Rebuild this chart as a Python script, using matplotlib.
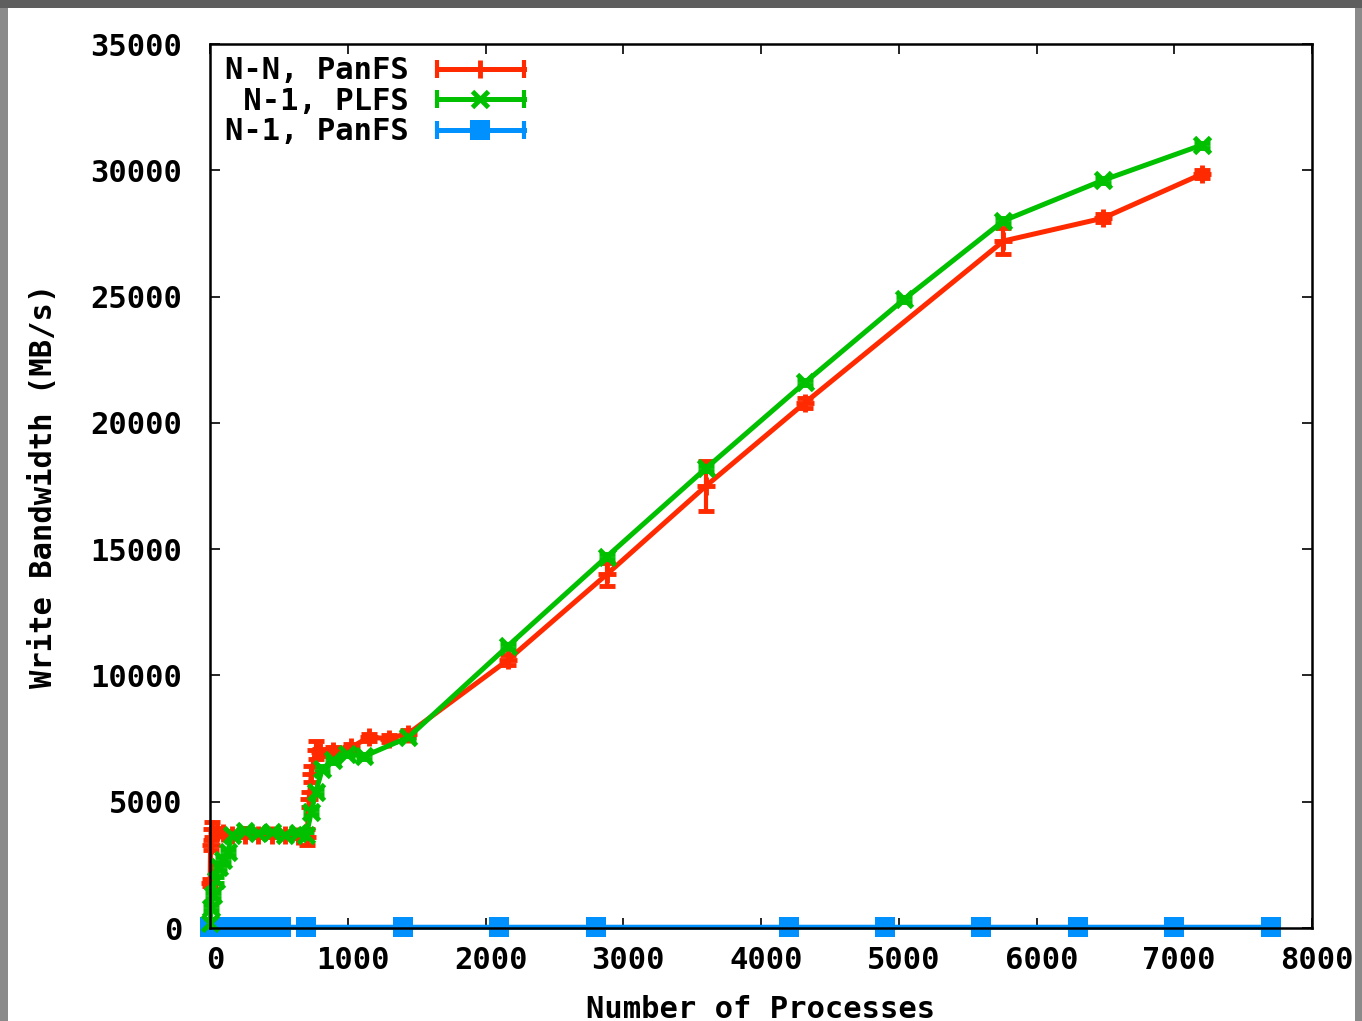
import matplotlib
matplotlib.use("Agg")
import matplotlib.pyplot as plt
import matplotlib.transforms as mtransforms
from matplotlib.lines import Line2D
from matplotlib.patches import Rectangle
from matplotlib.legend_handler import HandlerLine2D

# N-N, PanFS
nn_x = [1, 4, 16, 48, 96, 160, 256, 352, 448, 544, 640, 704, 720, 736, 768, 800,
        896, 1024, 1152, 1296, 1440, 2160, 2880, 3600, 4320, 5760, 6480, 7200]
nn_y = [1800, 3300, 3900, 3800, 3750, 3700, 3700, 3700, 3700, 3700, 3650, 3600,
        5100, 6100, 7050, 6950, 7000, 7150, 7550, 7500, 7700, 10600, 14000, 17500,
        20800, 27200, 28100, 29850]
nn_err = [150, 200, 300, 150, 100, 100, 100, 100, 100, 100, 100, 300,
          300, 300, 350, 150, 150, 150, 150, 150, 150, 200, 450, 1000,
          200, 500, 150, 150]

# N-1, PLFS
plfs_x = [1, 8, 24, 40, 64, 96, 128, 160, 256, 352, 448, 544, 640, 700, 736, 768,
          816, 896, 992, 1120, 1440, 2160, 2880, 3600, 4320, 5040, 5760, 6480, 7200]
plfs_y = [200, 800, 1300, 1900, 2400, 2700, 3000, 3700, 3850, 3750, 3800, 3700,
          3750, 3700, 4600, 5400, 6300, 6650, 6900, 6800, 7550, 11150, 14700, 18200,
          21600, 24900, 28000, 29600, 31000]
plfs_err = [100] * len(plfs_x)

# N-1, PanFS
panfs_x = [1, 16, 32, 64, 128, 192, 256, 320, 384, 448, 512,
           700, 1400, 2100, 2800, 4200, 4900, 5600, 6300, 7000, 7700]
panfs_y = [20, 25, 30, 30, 30, 30, 30, 30, 30, 30, 30,
           30, 30, 30, 30, 30, 30, 30, 30, 30, 30]

x_ticks = list(range(0, 8001, 1000))
y_ticks = list(range(0, 35001, 5000))

RED = "#ff2a00"
GREEN = "#00c000"
BLUE = "#0091ff"

plt.rcParams["font.family"] = ["DejaVu Sans Mono"]
plt.rcParams["font.size"] = 22
plt.rcParams["font.weight"] = "bold"
plt.rcParams["axes.labelweight"] = "bold"

fig = plt.figure(figsize=(13.62, 10.21), dpi=100, facecolor="#8a8a8a")
fig.patches.append(Rectangle((0, 1 - 8 / 1021), 1, 8 / 1021, transform=fig.transFigure,
                             facecolor="#5e5e5e", edgecolor="none", zorder=-2))
fig.patches.append(Rectangle((8 / 1362, 0), 1347 / 1362, 1 - 8 / 1021, transform=fig.transFigure,
                             facecolor="white", edgecolor="none", zorder=-2))

ax = fig.add_axes([210 / 1362, 1 - 928 / 1021, 1102 / 1362, 884 / 1021])
ax.set_facecolor("none")


def draw(x, y, err, color, marker, ms, mew):
    c = ax.errorbar(x, y, yerr=err, color=color, lw=3.6, marker=marker, ms=ms, mew=mew,
                    capsize=6, capthick=3, elinewidth=3)
    for art in [c.lines[0], *c.lines[1], *c.lines[2]]:
        art.set_clip_on(False)


draw(panfs_x, panfs_y, None, BLUE, "s", 14.5, 0)
draw(nn_x, nn_y, nn_err, RED, "+", 13, 3.5)
draw(plfs_x, plfs_y, plfs_err, GREEN, "x", 11, 3.5)

ax.set_xlim(0, 8000)
ax.set_ylim(0, 35000)
ax.set_xticks(x_ticks)
ax.set_yticks(y_ticks)
ax.tick_params(direction="in", length=7, width=1.2, top=True, right=True)
ax.tick_params(axis="x", pad=13)
ax.tick_params(axis="y", pad=20)
shift = mtransforms.ScaledTranslation(5 / 100, 0, fig.dpi_scale_trans)
for lbl in ax.get_xticklabels():
    lbl.set_transform(lbl.get_transform() + shift)
for s in ax.spines.values():
    s.set_linewidth(1.8)
ax.set_xlabel("Number of Processes", labelpad=14)
ax.set_ylabel("Write Bandwidth (MB/s)", labelpad=23)

handles = []
hmap = {}
for color, marker, ms, mew in [(RED, "+", 13, 3.5), (GREEN, "x", 11, 3.5), (BLUE, "s", 14.5, 0)]:
    caps = Line2D([], [], color=color, lw=3.6, marker="|", ms=13, mew=3)
    mid = Line2D([], [], color=color, ls="none", marker=marker, ms=ms, mew=mew)
    hmap[caps] = HandlerLine2D(numpoints=2, marker_pad=0)
    hmap[mid] = HandlerLine2D(numpoints=1)
    handles.append((caps, mid))

ax.legend(handles, ["N-N, PanFS", " N-1, PLFS", "N-1, PanFS"], handler_map=hmap,
          loc="upper left", bbox_to_anchor=(0.014, 0.986), frameon=False, markerfirst=False,
          borderpad=0, borderaxespad=0, labelspacing=0.05, handlelength=2.85,
          handletextpad=0.9)

fig.savefig("out.png", dpi=100, facecolor=fig.get_facecolor())
